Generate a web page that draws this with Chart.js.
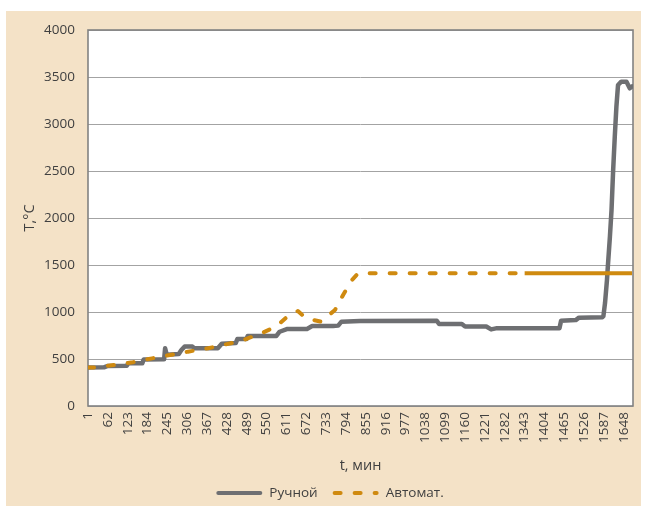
<!DOCTYPE html>
<html>
<head>
<meta charset="utf-8">
<script src="https://cdn.jsdelivr.net/npm/chart.js@4"></script>
<style>
html, body { margin: 0; padding: 0; background: #ffffff; }
#wrap { position: absolute; left: 6px; top: 11px; width: 635px; height: 495px; background: #f4e2c7; }
canvas { display: block; }
</style>
</head>
<body>
<div id="wrap"><canvas id="c" width="635" height="495"></canvas></div>
<script>
// ---- data ----
const xTickLabels = [1, 62, 123, 184, 245, 306, 367, 428, 489, 550, 611, 672, 733, 794, 855, 916, 977, 1038, 1099, 1160, 1221, 1282, 1343, 1404, 1465, 1526, 1587, 1648];
const yTickValues = [0, 500, 1000, 1500, 2000, 2500, 3000, 3500, 4000];

const seriesNames = ['Ручной', 'Автомат.'];

// "Ручной" (manual) — time, min
const manualT = [1, 50, 60, 120, 125, 168, 172, 235, 238, 243, 280, 288, 298, 322, 328, 400, 412, 455, 460, 488, 492, 580, 590, 612, 674, 690, 754, 770, 780, 837, 1073, 1080, 1150, 1160, 1225, 1240, 1258, 1450, 1455, 1500, 1510, 1582, 1585, 1590, 1596, 1599, 1605, 1610, 1615, 1620, 1625, 1630, 1640, 1656, 1666, 1673];
// "Ручной" temperature, °C
const manualTemp = [410, 412, 425, 428, 455, 455, 495, 497, 615, 545, 553, 596, 632, 632, 614, 614, 662, 670, 712, 712, 745, 745, 790, 818, 820, 850, 850, 855, 897, 905, 907, 872, 872, 845, 845, 815, 828, 828, 907, 914, 940, 945, 955, 1095, 1340, 1500, 1800, 2085, 2510, 2865, 3184, 3415, 3450, 3450, 3380, 3400];

// "Автомат." (automatic) — time, min
const autoT = [1, 23, 81, 139, 198, 253, 308, 370, 416, 474, 533, 579, 619, 646, 671, 717, 760, 785, 812, 831, 1343, 1673];
// "Автомат." temperature, °C
const autoTemp = [410, 411, 436, 465, 507, 543, 578, 614, 649, 695, 773, 844, 968, 1010, 933, 897, 1021, 1181, 1340, 1411, 1411, 1411];

// time from which the automatic curve is drawn solid
const autoSolidFrom = 1343;

// ---- styling ----
const FONT = '"Open Sans", "DejaVu Sans", sans-serif';
const TEXT = '#404040';
const GRAY = '#6e6f72';
const ORANGE = '#cf8a10';

const toPoints = (xs, ys) => xs.map((x, i) => ({ x: x, y: ys[i] }));

const plotFrame = {
  id: 'plotFrame',
  beforeDraw(chart) {
    const a = chart.chartArea, ctx = chart.ctx;
    ctx.save();
    ctx.fillStyle = '#ffffff';
    ctx.fillRect(a.left, a.top, a.right - a.left, a.bottom - a.top);
    ctx.restore();
  },
  beforeDatasetsDraw(chart) {
    const a = chart.chartArea, ctx = chart.ctx;
    ctx.save();
    ctx.strokeStyle = '#828282';
    ctx.lineWidth = 1.6;
    ctx.strokeRect(a.left, a.top, a.right - a.left, a.bottom - a.top);
    ctx.restore();
  }
};

const lineLegend = {
  id: 'lineLegend',
  afterDraw(chart) {
    const ctx = chart.ctx;
    const items = chart.data.datasets.map(ds => ({
      text: ds.label, color: ds.borderColor, dash: ds.borderDash || [],
      width: ds.borderWidth, cap: ds.borderCapStyle || 'butt'
    }));
    ctx.save();
    ctx.font = '13.5px ' + FONT;
    const sample = 44, gap = 8, spacing = 16;
    let total = 0;
    items.forEach((it, i) => { total += sample + gap + ctx.measureText(it.text).width + (i ? spacing : 0); });
    let x = chart.width / 2 + 7 - total / 2;
    const y = 482;
    items.forEach((it, i) => {
      if (i) x += spacing;
      ctx.beginPath();
      ctx.setLineDash(it.dash);
      ctx.lineCap = it.cap;
      ctx.strokeStyle = it.color;
      ctx.lineWidth = Math.min(it.width, 4);
      ctx.moveTo(x + 1, y);
      ctx.lineTo(x + sample - 1, y);
      ctx.stroke();
      x += sample + gap;
      ctx.setLineDash([]);
      ctx.fillStyle = TEXT;
      ctx.textBaseline = 'middle';
      ctx.textAlign = 'left';
      ctx.fillText(it.text, x, y);
      x += ctx.measureText(it.text).width;
    });
    ctx.restore();
  }
};

new Chart(document.getElementById('c'), {
  type: 'line',
  data: {
    datasets: [
      {
        label: seriesNames[0],
        data: toPoints(manualT, manualTemp),
        borderColor: GRAY,
        borderWidth: 4.5,
        borderCapStyle: 'round',
        borderJoinStyle: 'round',
        pointRadius: 0,
        tension: 0,
        fill: false,
        order: 1
      },
      {
        label: seriesNames[1],
        data: toPoints(autoT, autoTemp),
        borderColor: ORANGE,
        borderWidth: 4,
        borderDash: [6, 14],
        borderCapStyle: 'round',
        borderJoinStyle: 'round',
        pointRadius: 0,
        tension: 0,
        fill: false,
        order: 0,
        segment: {
          borderDash: ctx => ctx.p0.parsed.x >= autoSolidFrom ? [] : undefined,
          borderCapStyle: ctx => ctx.p0.parsed.x >= autoSolidFrom ? 'butt' : undefined
        }
      }
    ]
  },
  options: {
    responsive: false,
    animation: false,
    events: [],
    layout: { padding: { left: 0, right: 8, top: 19, bottom: 31.6 } },
    plugins: { legend: { display: false }, tooltip: { enabled: false } },
    scales: {
      x: {
        type: 'linear',
        min: 1,
        max: 1676,
        afterBuildTicks: s => { s.ticks = xTickLabels.map(v => ({ value: v })); },
        afterFit: s => { s.height = 68.4; s.paddingLeft = 0; s.paddingRight = 0; },
        grid: { display: false, drawTicks: false },
        border: { display: false },
        ticks: {
          autoSkip: false,
          minRotation: 90,
          maxRotation: 90,
          padding: 6,
          color: TEXT,
          font: { family: FONT, size: 13.5 },
          callback: v => String(v)
        },
        title: {
          display: true,
          text: 't, мин',
          color: TEXT,
          font: { family: FONT, size: 14.5 },
          padding: { top: 0, bottom: 0 }
        }
      },
      y: {
        min: 0,
        max: 4000,
        afterBuildTicks: s => { s.ticks = yTickValues.map(v => ({ value: v })); },
        afterFit: s => { s.width = 82; s.paddingTop = 0; s.paddingBottom = 0; },
        grid: { color: '#a3a3a3', lineWidth: 1, drawTicks: false },
        border: { display: false },
        ticks: {
          padding: 13,
          color: TEXT,
          font: { family: FONT, size: 13.5 },
          callback: v => String(v)
        },
        title: {
          display: true,
          text: 'T,°C',
          color: TEXT,
          font: { family: FONT, size: 14.5 },
          padding: { top: 15.5, bottom: 0 }
        }
      }
    }
  },
  plugins: [plotFrame, lineLegend]
});
</script>
</body>
</html>
